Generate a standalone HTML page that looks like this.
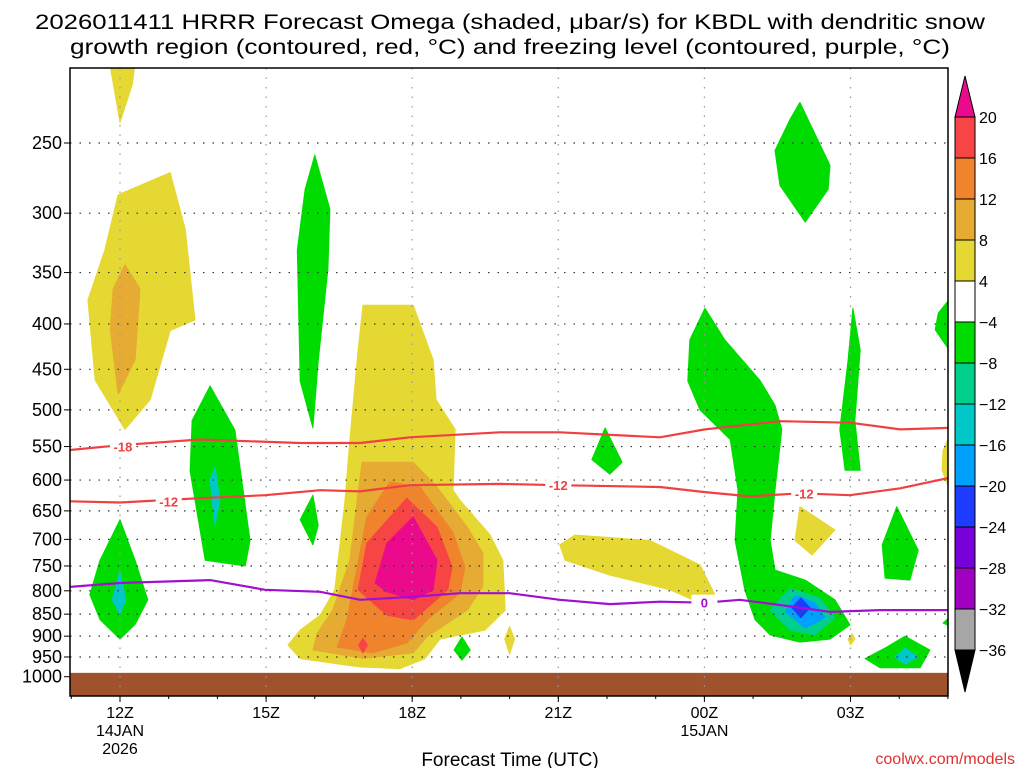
<!DOCTYPE html>
<html><head><meta charset="utf-8"><style>
html,body{margin:0;padding:0;background:#fff;}
svg{display:block;font-family:"Liberation Sans",sans-serif;}
</style></head><body>
<svg id="c" width="1024" height="768" viewBox="0 0 1024 768" xmlns="http://www.w3.org/2000/svg">
<text x="510" y="29" text-anchor="middle" font-size="21" textLength="950" lengthAdjust="spacingAndGlyphs">2026011411 HRRR Forecast Omega (shaded, μbar/s) for KBDL with dendritic snow</text>
<text x="510" y="54" text-anchor="middle" font-size="21" textLength="880" lengthAdjust="spacingAndGlyphs">growth region (contoured, red, °C) and freezing level (contoured, purple, °C)</text>
<g id="shade"></g>
<g id="grid"></g>
<g id="lines"></g>
<g id="axes"></g>
<g id="cbar"></g>
<text x="510" y="766" text-anchor="middle" font-size="19">Forecast Time (UTC)</text>
<text x="1015" y="764" text-anchor="end" font-size="16" fill="#e03030">coolwx.com/models</text>
</svg>
<script>
const pTicks=[250,300,350,400,450,500,550,600,650,700,750,800,850,900,950,1000];
const hourTicks=[0,3,6,9,12,15];
const hourLabels=[["12Z","14JAN","2026"],["15Z"],["18Z"],["21Z"],["00Z","15JAN"],["03Z"]];
const cbLevels=["20","16","12","8","4","-4","-8","-12","-16","-20","-24","-28","-32","-36"];
const cbColors=["#f74545","#f0842c","#e5ab32","#e5d832","#ffffff","#00dc00","#00d08c","#00c8c8","#00a0ff","#1e3cff","#7800d8","#a000c0","#a6a6a6"];
const YEL="#e5d832",GOLD="#e5ab32",ORG="#f0842c",RED="#f74545",MAG="#ec0a8c",GRN="#00dc00",TGN="#00d08c",TEAL="#00c8c8",CYAN="#00a0ff",BLUE="#1e3cff";
// shaded omega regions: [hour since 12Z, pressure hPa]
const yellowTop=[[-0.2,205],[0.3,205],[0.25,215],[0.0,237]];
const yellowLeft=[[-0.04,286],[1.03,270],[1.34,313],[1.54,396],[1.03,407],[0.62,487],[0.1,526],[-0.51,463],[-0.66,376],[-0.31,330]];
const goldLeft=[[0.1,343],[0.41,365],[0.31,439],[-0.04,480],[-0.2,406],[-0.14,365]];
const greenLowLeft=[[0,665],[0.31,739],[0.57,819],[0.31,873],[0,907],[-0.41,862],[-0.62,808],[-0.41,739]];
const tealLowLeft=[[0,760],[0.12,819],[0,850],[-0.16,819]];
const green14=[[1.85,470],[2.36,527],[2.67,702],[2.57,750],[1.75,739],[1.44,586],[1.48,514]];
const teal14=[[1.95,580],[2.05,632],[1.95,675],[1.85,600]];
const green16=[[4.0,258],[4.31,297],[4.27,347],[4.07,441],[3.96,524],[3.7,464],[3.64,330],[3.8,282]];
const green16b=[[3.96,624],[4.07,675],[3.96,710],[3.7,665]];
const plumeYellow=[[4.99,381],[6.02,381],[6.43,439],[6.49,487],[6.88,526],[6.84,616],[6.98,632],[7.6,692],[7.86,739],[7.91,841],[7.49,886],[6.57,907],[6.26,954],[5.75,979],[4.93,975],[3.7,954],[3.45,921],[3.7,886],[4.11,852],[4.41,798],[4.62,632],[4.72,540],[4.89,428]];
const plumeGold=[[4.97,573],[6.02,573],[6.51,611],[7.13,678],[7.45,725],[7.45,792],[7.13,841],[6.3,902],[6.02,940],[4.99,953],[3.96,933],[4.05,893],[4.37,841],[4.72,739],[4.87,632]];
const plumeOrange=[[5.54,603],[6.16,611],[6.84,688],[7.08,752],[6.98,805],[6.3,863],[5.89,916],[5.2,940],[4.46,926],[4.66,863],[4.87,752],[5.07,660]];
const plumeRed=[[5.89,629],[6.51,678],[6.82,752],[6.73,798],[6.02,863],[5.48,852],[4.89,798],[5.07,707]];
const plumeRedSmall=[[4.99,905],[5.08,921],[4.99,940],[4.9,921]];
const plumeMag=[[6.02,660],[6.51,739],[6.43,798],[6.02,819],[5.48,802],[5.24,784],[5.48,707]];
const greenDot=[[7.02,902],[7.19,933],[7.02,958],[6.86,933]];
const yellowDot=[[8.0,878],[8.1,907],[8.0,943],[7.9,907]];
const green22=[[9.96,524],[10.31,573],[10.06,591],[9.69,569]];
const yellowMid=[[9.34,692],[10.88,702],[11.91,748],[12.22,809],[12.01,830],[11.29,798],[10.06,768],[9.14,739],[9.03,710]];
const greenBig=[[12.01,384],[12.42,417],[13.14,463],[13.45,494],[13.59,526],[13.45,616],[13.35,702],[13.45,758],[14.07,778],[14.68,819],[14.99,874],[14.58,907],[13.96,914],[13.35,897],[13.04,862],[12.83,798],[12.63,702],[12.69,616],[12.53,540],[11.91,500],[11.66,464],[11.7,417]];
const tealBig=[[13.76,795],[14.37,815],[14.68,858],[14.27,897],[13.76,886],[13.35,841]];
const cyanBig=[[13.86,809],[14.27,825],[14.48,858],[14.07,881],[13.66,845]];
const blueBig=[[13.98,815],[14.17,836],[13.98,858],[13.8,836]];
const greenTopRight=[[13.96,225],[14.58,265],[14.54,282],[14.07,307],[13.55,279],[13.45,255],[13.76,235]];
const greenNarrow=[[15.05,384],[15.2,428],[15.09,514],[15.2,585],[14.89,585],[14.78,526],[14.95,439]];
const yellowSmallR=[[13.96,643],[14.68,683],[14.21,729],[13.86,702]];
const yellowTiny=[[15.03,894],[15.09,907],[15.0,921],[14.95,907]];
const green04=[[15.95,643],[16.39,720],[16.22,778],[15.71,774],[15.65,710]];
const greenBotR=[[16.12,900],[16.63,933],[16.43,977],[15.61,977],[15.3,954],[15.71,928]];
const tealBotR=[[16.12,928],[16.39,950],[16.12,968],[15.91,950]];
const greenEdge=[[17.1,371],[17.1,434],[16.74,406],[16.8,389]];
const yellowEdge=[[17.1,524],[17.1,629],[16.88,585],[16.9,556]];
const greenEdge2=[[17.1,850],[17.1,880],[16.9,870]];
const regions=[[yellowTop,YEL],[yellowLeft,YEL],[goldLeft,GOLD],[greenLowLeft,GRN],[tealLowLeft,TEAL],[green14,GRN],[teal14,TEAL],[green16,GRN],[green16b,GRN],
[plumeYellow,YEL],[plumeGold,GOLD],[plumeOrange,ORG],[plumeRed,RED],[plumeRedSmall,RED],[plumeMag,MAG],[greenDot,GRN],[yellowDot,YEL],[green22,GRN],[yellowMid,YEL],
[greenBig,GRN],[tealBig,TGN],[cyanBig,CYAN],[blueBig,BLUE],[greenTopRight,GRN],[greenNarrow,GRN],[yellowSmallR,YEL],[yellowTiny,YEL],[green04,GRN],[greenBotR,GRN],[tealBotR,TEAL],[greenEdge,GRN],[yellowEdge,YEL],[greenEdge2,GRN]];
// contour lines: pressure at hours
const lineHours=[-1.03,0,1.64,3.7,4.93,5.95,7.8,9.03,11.09,12.01,13.55,14.99,16.02,17.0];
const m18P=[555,548,540,545,545,537,530,530,537,526,515,517,526,524];
const m12Hours=[-1.03,0,1.64,2.98,4.11,4.93,5.95,7.8,9.03,11.09,12.01,12.94,13.96,14.99,16.02,17.0];
const m12P=[634,636,629,624,616,618,608,606,608,611,619,626,621,624,613,597];
const zeroHours=[-1.03,0,1.85,2.98,4.11,4.93,5.95,6.98,8.0,9.03,10.06,11.09,12.01,12.73,13.55,14.58,15.61,17.0];
const zeroP=[792,784,778,798,802,819,813,805,805,819,828,823,825,819,830,845,841,841];

const L=70,R=948,T=68,B=696;
const xOf=h=>120+48.7*h;
const yOf=p=>143+385*Math.log(p/250);
const NS="http://www.w3.org/2000/svg";
function mk(tag,attrs,parent){const e=document.createElementNS(NS,tag);for(const k in attrs)e.setAttribute(k,attrs[k]);parent.appendChild(e);return e;}
const shade=document.getElementById('shade');
mk('clipPath',{id:'pc'},shade).appendChild(Object.assign(document.createElementNS(NS,'rect'),{}));
shade.querySelector('clipPath rect').setAttribute('x',L);shade.querySelector('clipPath rect').setAttribute('y',T);shade.querySelector('clipPath rect').setAttribute('width',R-L);shade.querySelector('clipPath rect').setAttribute('height',B-T);
const sg=mk('g',{'clip-path':'url(#pc)'},shade);
regions.forEach(([pts,col],i)=>{
  const pg=mk('polygon',{points:pts.map(([h,p])=>xOf(h).toFixed(1)+','+yOf(p).toFixed(1)).join(' '),fill:col,stroke:col,'stroke-width':1,'stroke-linejoin':'round'},sg);
  
  
});
const ground=mk('rect',{x:L,y:yOf(990),width:R-L,height:B-yOf(990),fill:'#a0522d'},sg);


// grid
const grid=document.getElementById('grid');
pTicks.forEach(p=>{if(p===1000)return;const y=yOf(p);const l=mk('line',{x1:L,x2:R,y1:y,y2:y,stroke:'#333','stroke-width':1.2,'stroke-dasharray':'1.5 8'},grid);

});
hourTicks.forEach(h=>{const x=xOf(h);const l=mk('line',{x1:x,x2:x,y1:T,y2:B,stroke:'#999','stroke-width':1.2,'stroke-dasharray':'1.5 8'},grid);

});
// lines
const lines=document.getElementById('lines');
const lg=mk('g',{'clip-path':'url(#pc)'},lines);
function drawLine(hs,ps,col,name){const d=hs.map((h,i)=>(i?'L':'M')+xOf(h).toFixed(1)+','+yOf(ps[i]).toFixed(1)).join(' ');
const pth=mk('path',{d:d,fill:'none',stroke:col,'stroke-width':2.2},lg);

}
drawLine(lineHours,m18P,'#f04040','contour-minus18');
drawLine(m12Hours,m12P,'#f04040','contour-minus12');
drawLine(zeroHours,zeroP,'#a010d0','freezing-level-0');
function lab(t,h,p,col,name){const x=xOf(h),y=yOf(p);
const r=mk('rect',{x:x-13,y:y-8,width:26,height:15,fill:'#fff'},lg);
const tx=mk('text',{x:x,y:y+5,'text-anchor':'middle','font-size':13,'font-weight':'bold',fill:col},lg);tx.textContent=t;

}
lab('-18',0.06,550,'#f04040','label-minus18');
lab('-12',1.0,634,'#f04040','label-minus12-a');
lab('-12',9.0,608,'#f04040','label-minus12-b');
lab('-12',14.05,621,'#f04040','label-minus12-c');
lab('0',12.0,825,'#a010d0','label-zero');
// axes
const ax=document.getElementById('axes');
const fr=mk('rect',{x:L,y:T,width:R-L,height:B-T,fill:'none',stroke:'#000','stroke-width':1.5},ax);


pTicks.forEach(p=>{const y=yOf(p);mk('line',{x1:L-6,x2:L,y1:y,y2:y,stroke:'#000'},ax);
const t=mk('text',{x:L-8,y:y+6,'text-anchor':'end','font-size':18},ax);t.textContent=p;

});
hourTicks.forEach((h,i)=>{const x=xOf(h);mk('line',{x1:x,x2:x,y1:B,y2:B+6,stroke:'#000'},ax);
hourLabels[i].forEach((s,j)=>{const t=mk('text',{x:x,y:B+22+j*18,'text-anchor':'middle','font-size':16},ax);t.textContent=s;

});});
for(let h=-1;h<=17;h++){const x=xOf(h);if(x<L||x>R)continue;mk('line',{x1:x,x2:x,y1:B,y2:B+3,stroke:'#000'},ax);}
// colorbar
const cb=document.getElementById('cbar');
const cx=955,cw=20,ct=117,step=(650-117)/13;
const tri1=mk('polygon',{points:`${cx},${ct} ${cx+cw},${ct} ${cx+cw/2},76`,fill:MAG,stroke:'#000'},cb);


cbColors.forEach((c,i)=>{const r=mk('rect',{x:cx,y:ct+i*step,width:cw,height:step,fill:c,stroke:'#000'},cb);

});
const tri2=mk('polygon',{points:`${cx},650 ${cx+cw},650 ${cx+cw/2},692`,fill:'#000',stroke:'#000'},cb);


cbLevels.forEach((s,i)=>{const t=mk('text',{x:cx+cw+4,y:ct+i*step+6,'font-size':16},cb);t.textContent=s.replace('-','−');

});
</script>
</body></html>
